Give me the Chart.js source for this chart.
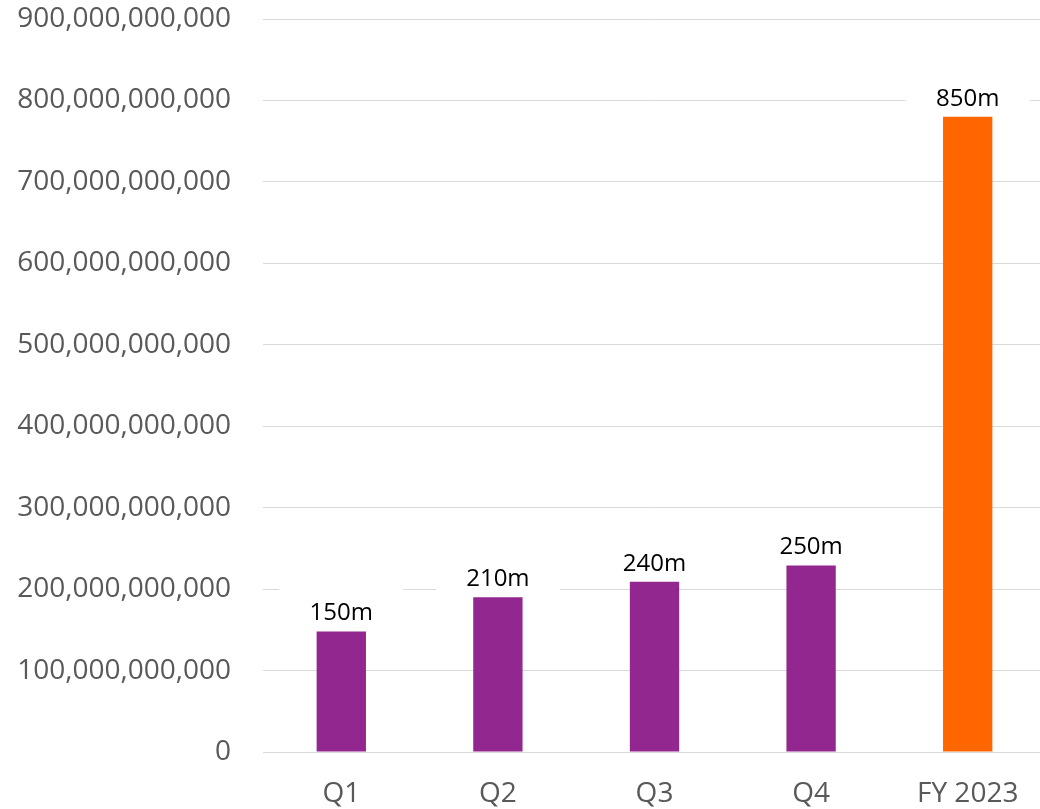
<!DOCTYPE html>
<html>
<head>
<meta charset="utf-8">
<script src="https://cdn.jsdelivr.net/npm/chart.js@4/dist/chart.umd.min.js"></script>
<style>
  html, body { margin: 0; padding: 0; background: #ffffff; overflow: hidden; }
  #wrap { width: 1040px; height: 809px; overflow: hidden; }
</style>
</head>
<body>
<div id="wrap"><canvas id="c" width="1046" height="809"></canvas></div>
<script>
const categories = ["Q1", "Q2", "Q3", "Q4", "FY 2023"];
const values = [148e9, 190e9, 209e9, 229e9, 780e9];
const valueLabels = ["150m", "210m", "240m", "250m", "850m"];
const barColors = ["#92278F", "#92278F", "#92278F", "#92278F", "#FF6600"];
const yMin = 0, yMax = 900e9, yStep = 100e9;

const FONT = "'Open Sans', 'DejaVu Sans', sans-serif";

const labelPlugin = {
  id: 'valueLabels',
  beforeDatasetsDraw(chart) {
    const ctx = chart.ctx;
    const meta = chart.getDatasetMeta(0);
    ctx.save();
    ctx.fillStyle = '#ffffff';
    meta.data.forEach((bar) => {
      const base = bar.y - 11;
      ctx.fillRect(bar.x - 62, base - 32, 124, 44);
    });
    ctx.restore();
  },
  afterDatasetsDraw(chart) {
    const ctx = chart.ctx;
    const meta = chart.getDatasetMeta(0);
    ctx.save();
    ctx.font = "24px " + FONT;
    ctx.fillStyle = '#000000';
    ctx.textAlign = 'center';
    ctx.textBaseline = 'alphabetic';
    meta.data.forEach((bar, i) => {
      ctx.fillText(valueLabels[i], bar.x, bar.y - 11);
    });
    ctx.restore();
  }
};

function build() {
  new Chart(document.getElementById('c'), {
    type: 'bar',
    data: {
      labels: categories,
      datasets: [{
        data: values,
        backgroundColor: barColors,
        borderWidth: 0,
        barPercentage: 0.315,
        categoryPercentage: 1.0
      }]
    },
    options: {
      responsive: false,
      animation: false,
      devicePixelRatio: 1,
      layout: { padding: { left: 16, right: 0, top: 19, bottom: 0 } },
      plugins: { legend: { display: false }, tooltip: { enabled: false } },
      scales: {
        x: {
          grid: { display: false },
          border: { display: false },
          ticks: { color: '#595959', font: { family: FONT, size: 28 }, padding: 17, maxRotation: 0 },
          afterFit: (s) => { s.height = 57; s.paddingTop = 0; s.paddingBottom = 0; }
        },
        y: {
          min: yMin, max: yMax,
          grid: { color: '#D9D9D9', lineWidth: 1, drawTicks: false },
          border: { display: false },
          ticks: {
            stepSize: yStep,
            color: '#595959',
            font: { family: FONT, size: 28 },
            padding: 32,
            callback: (v) => Number(v).toLocaleString('en-US')
          },
          afterFit: (s) => { s.width = 247; s.paddingTop = 0; s.paddingBottom = 0; }
        }
      }
    },
    plugins: [labelPlugin]
  });
}

Promise.all([
  document.fonts.load("28px 'Open Sans'"),
  document.fonts.load("24px 'Open Sans'")
]).then(build, build);
</script>
</body>
</html>
